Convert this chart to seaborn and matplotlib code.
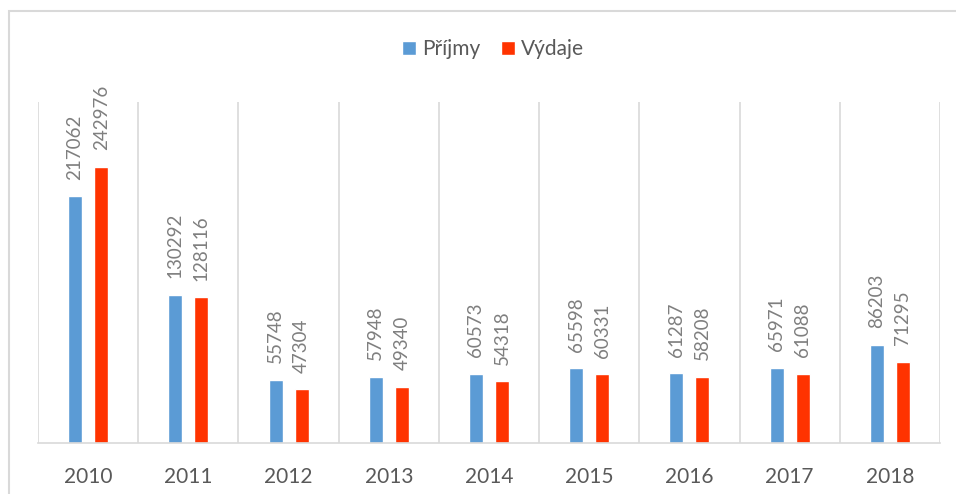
import numpy as np
import pandas as pd
import matplotlib
matplotlib.use('Agg')
import matplotlib.pyplot as plt
import matplotlib.patches as patches
import seaborn as sns

years = ['2010', '2011', '2012', '2013', '2014', '2015', '2016', '2017', '2018']
prijmy = [217062, 130292, 55748, 57948, 60573, 65598, 61287, 65971, 86203]
vydaje = [242976, 128116, 47304, 49340, 54318, 60331, 58208, 61088, 71295]
series = ['Příjmy', 'Výdaje']
colors = ['#5B9BD5', '#FF3300']

df = pd.DataFrame({
    'rok': years * 2,
    'hodnota': prijmy + vydaje,
    'serie': [series[0]] * len(years) + [series[1]] * len(years),
})

sns.set_style('white')
plt.rcParams['font.family'] = ['Lato', 'DejaVu Sans']

fig = plt.figure(figsize=(9.56, 4.94), dpi=100)
ax = fig.add_axes([38 / 956, 51 / 494, 902 / 956, 341 / 494])

sns.barplot(data=df, x='rok', y='hodnota', hue='serie', palette=colors,
            width=0.52, gap=0.4615, ax=ax, legend=True, saturation=1)

# value labels, rotated like in Excel
for cont in ax.containers:
    for bar in cont:
        h = bar.get_height()
        ax.annotate(f'{int(h)}', (bar.get_x() + bar.get_width() / 2, h),
                    xytext=(0, 12), textcoords='offset points',
                    rotation=90, ha='center', va='bottom',
                    fontsize=13.5, color='#7F7F7F')

ax.set_xlim(-0.5, len(years) - 0.5)
ax.set_ylim(0, 300000)
ax.set_yticks([])
ax.set_xlabel('')
ax.set_ylabel('')

# category separators
ax.set_xticks(np.arange(-0.5, len(years)), minor=True)
ax.grid(which='minor', axis='x', color='#D9D9D9', linewidth=1.2)
ax.tick_params(axis='x', which='both', length=0, pad=17, labelsize=15,
               labelcolor='#595959')

for s in ['top', 'left', 'right']:
    ax.spines[s].set_visible(False)
ax.spines['bottom'].set_color('#D9D9D9')
ax.spines['bottom'].set_linewidth(1.2)

ax.legend(loc='center', bbox_to_anchor=(493 / 956, 1 - 49 / 494),
          bbox_transform=fig.transFigure, ncol=2, frameon=False,
          fontsize=15, handlelength=0.67, handleheight=0.67,
          handletextpad=0.3, columnspacing=1.0, labelcolor='#595959')

# outer chart border
fig.patches.append(patches.Rectangle((8.5 / 956, -0.1), 1.2, 1 - 11.5 / 494 + 0.1,
                                     transform=fig.transFigure, fill=False,
                                     edgecolor='#D9D9D9', linewidth=1.5))

fig.savefig('out.png', dpi=100)
